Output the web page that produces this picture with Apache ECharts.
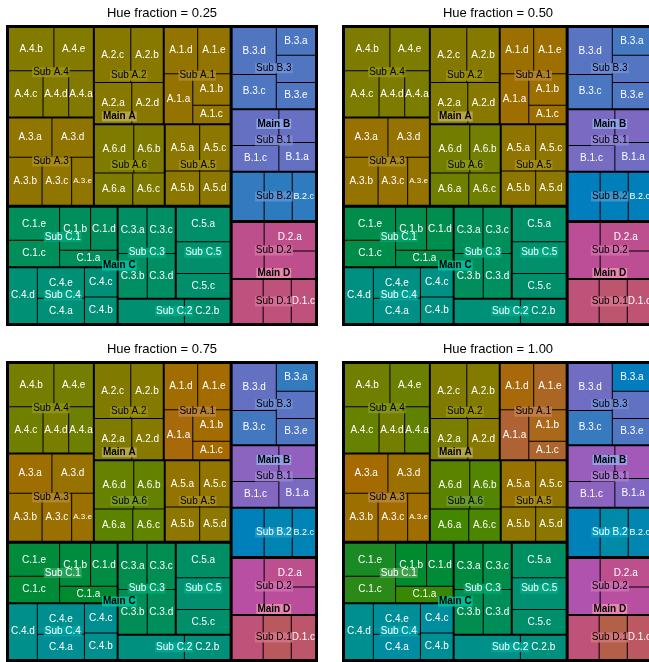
<!DOCTYPE html>
<html><head><meta charset="utf-8">
<script src="https://cdn.jsdelivr.net/npm/echarts@6/dist/echarts.min.js"></script>
<style>html,body{margin:0;padding:0;background:#fff}#c{width:649px;height:662px}</style>
</head><body><div id="c"></div>
<script>
// ---------- data ----------
const mainNames = ['A', 'B', 'C', 'D'];
const subsA = ['A.1', 'A.2', 'A.3', 'A.4', 'A.5', 'A.6'];
const subsB = ['B.1', 'B.2', 'B.3'];
const subsC = ['C.1', 'C.2', 'C.3', 'C.4', 'C.5'];
const subsD = ['D.1', 'D.2'];
const leafLetters = ['a', 'b', 'c', 'd', 'e'];
// leaf values, leaves ordered a, b, c, ...
const valA1 = [1479, 1216, 722, 1598, 1551];
const valA2 = [1596, 1848, 2072, 1344];
const valA3 = [1760, 1666, 1470, 1680, 1078];
const valA4 = [1175, 2024, 1645, 1222, 1760];
const valA5 = [1645, 1225, 1457, 1085];
const valA6 = [1287, 1519, 1056, 1960];
const valB1 = [1102, 1739, 1260, 1250];
const valB2 = [1617, 1421, 1176];
const valB3 = [1130, 1110, 1575, 2160, 1080];
const valC1 = [980, 1385, 1400, 1185, 1750];
const valC2 = [1715, 1185];
const valC3 = [1390, 1350, 1360, 1300];
const valC4 = [1242, 896, 1000, 1672, 1490];
const valC5 = [1940, 1775, 1385];
const valD1 = [1440, 1305, 1125];
const valD2 = [1537, 1881, 1484];
const hueFractions = [0.25, 0.50, 0.75, 1.00];
// leaf labels that the reference hides (covered by higher-level labels)
const hiddenLeafLabels = ['B.1.b', 'B.1.d', 'B.2.a', 'B.2.b', 'B.3.b', 'C.2.a', 'C.5.b', 'D.1.a', 'D.1.b', 'D.2.b', 'D.2.c'];
const shrunkLeafLabels = ['A.3.e', 'B.2.c'];

// ---------- styling helpers ----------
const FONT = '"Liberation Sans", Arial, Helvetica, sans-serif';
const subLists = [subsA, subsB, subsC, subsD];
const leafValues = {
  'A.1': valA1, 'A.2': valA2, 'A.3': valA3, 'A.4': valA4, 'A.5': valA5, 'A.6': valA6,
  'B.1': valB1, 'B.2': valB2, 'B.3': valB3,
  'C.1': valC1, 'C.2': valC2, 'C.3': valC3, 'C.4': valC4, 'C.5': valC5,
  'D.1': valD1, 'D.2': valD2
};

function hcl(h, c, l) {
  const WY = 100, Wu = 0.1978398, Wv = 0.4683363;
  const r = h * Math.PI / 180;
  const U = c * Math.cos(r), V = c * Math.sin(r);
  const Y = WY * (l > 7.999592 ? Math.pow((l + 16) / 116, 3) : l / 903.3);
  const u = U / (13 * l) + Wu, v = V / (13 * l) + Wv;
  const X = 9 * Y * u / (4 * v);
  const Z = -X / 3 - 5 * Y + 3 * Y / v;
  const g = x => { x = x > 0.00304 ? 1.055 * Math.pow(x, 1 / 2.4) - 0.055 : 12.92 * x; return Math.max(0, Math.min(1, x)); };
  return [
    g((3.240479 * X - 1.537150 * Y - 0.498535 * Z) / WY),
    g((-0.969256 * X + 1.875992 * Y + 0.041556 * Z) / WY),
    g((0.055648 * X - 0.204043 * Y + 1.057311 * Z) / WY)
  ].map(x => Math.round(x * 255));
}
const rgbStr = (c, a) => a == null ? `rgb(${c[0]},${c[1]},${c[2]})` : `rgba(${c[0]},${c[1]},${c[2]},${a})`;
const isLight = c => (0.299 * c[0] + 0.587 * c[1] + 0.114 * c[2]) >= 128;

function spread(n) {
  if (n < 3) return Array.from({ length: n }, (_, i) => i + 1);
  const h = Math.ceil(n / 2), out = [];
  for (let i = 1; i <= h; i++) { out.push(i); if (h + i <= n) out.push(h + i); }
  return out;
}
function splitRange(n, lb, ub, frc, rev) {
  const ids = spread(n), w = (ub - lb) / n;
  return ids.map(id => {
    const seg = rev ? n + 1 - id : id;
    const mid = lb + (seg - 0.5) * w;
    return { hue: mid, lb: mid - w * frc / 2, ub: mid + w * frc / 2 };
  });
}
function tokenStyle(c, bold) {
  return {
    backgroundColor: rgbStr(c, 0.863), color: isLight(c) ? '#000' : '#fff',
    fontSize: 10, fontFamily: FONT, fontWeight: bold ? 'bold' : 'normal',
    padding: [0, 1, 0, 1], lineHeight: 10, align: 'center'
  };
}

function buildPanel(frc) {
  const mainR = splitRange(4, 30, 390, frc, false);
  const leafTree = [], subTree = [], mainTree = [];
  mainNames.forEach((mk, mi) => {
    const subs = subLists[mi];
    const subR = splitRange(subs.length, mainR[mi].lb, mainR[mi].ub, frc, mi % 2 === 1);
    const leafSubs = [], labelSubs = [];
    let mainSum = 0;
    subs.forEach((sk, si) => {
      const vals = leafValues[sk];
      const leafR = splitRange(vals.length, subR[si].lb, subR[si].ub, frc, si % 2 === 1);
      let subSum = 0;
      const leaves = vals.map((v, li) => {
        subSum += v;
        const name = sk + '.' + leafLetters[li];
        const item = { name, value: v, itemStyle: { color: rgbStr(hcl(leafR[li].hue, 70, 50)) } };
        if (hiddenLeafLabels.includes(name)) item.label = { show: false };
        else if (shrunkLeafLabels.includes(name)) item.label = { fontSize: name === 'A.3.e' ? 8 : 9 };
        return item;
      });
      mainSum += subSum;
      leafSubs.push({ name: 'Sub ' + sk, children: leaves });
      labelSubs.push({ name: 'Sub ' + sk, value: subSum, label: { rich: { t: tokenStyle(hcl(subR[si].hue, 65, 60), false) } } });
    });
    leafTree.push({ name: 'Main ' + mk, children: leafSubs });
    subTree.push({ name: 'Main ' + mk, children: labelSubs });
    mainTree.push({ name: 'Main ' + mk, value: mainSum, label: { rich: { t: tokenStyle(hcl(mainR[mi].hue, 60, 70), true) } } });
  });
  return { leafTree, subTree, mainTree };
}

function levelsFor(bc, fill) {
  const base = { borderColor: bc };
  if (fill) base.color = fill;
  return [
    { itemStyle: Object.assign({}, base, { borderWidth: 3, gapWidth: 3 }) },
    { itemStyle: Object.assign({}, base, { borderWidth: 0, gapWidth: 2 }) },
    { itemStyle: Object.assign({}, base, { borderWidth: 0, gapWidth: 1 }) },
    { itemStyle: Object.assign({}, base, { borderWidth: 0, gapWidth: 0 }) }
  ];
}
function centerLabel(p) {
  return { x: p.rect.x + p.rect.width / 2, y: p.rect.y + p.rect.height / 2 - 5, align: 'center', verticalAlign: 'top' };
}

const panelBoxes = [
  { left: 6, top: 25 }, { left: 342, top: 25 },
  { left: 6, top: 361 }, { left: 342, top: 361 }
];
const PW = 312, PH = 301;

const series = [], titles = [];
hueFractions.forEach((frc, i) => {
  const box = panelBoxes[i];
  const t = buildPanel(frc);
  const common = {
    type: 'treemap', left: box.left, top: box.top, width: PW, height: PH,
    roam: false, nodeClick: false, breadcrumb: { show: false }, animation: false,
    squareRatio: 1, sort: 'desc', visibleMin: 0, silent: true,
    upperLabel: { show: false }, emphasis: { disabled: true }
  };
  series.push(Object.assign({}, common, {
    z: 2, levels: levelsFor('#000'),
    label: { show: true, position: 'inside', fontSize: 10, fontFamily: FONT, color: '#fff', padding: 0, overflow: 'none' },
    data: t.leafTree
  }));
  const overlayLabel = {
    show: true, position: 'inside', padding: 0, overflow: 'none', formatter: '{t|{b}}',
    rich: { t: { fontSize: 10, fontFamily: FONT, padding: [0, 1, 0, 1], lineHeight: 10, align: 'center' } }
  };
  series.push(Object.assign({}, common, {
    z: 3, levels: levelsFor('rgba(0,0,0,0)', 'rgba(0,0,0,0)'),
    label: overlayLabel, labelLayout: centerLabel, data: t.subTree
  }));
  series.push(Object.assign({}, common, {
    z: 4, levels: levelsFor('rgba(0,0,0,0)', 'rgba(0,0,0,0)'),
    label: overlayLabel, labelLayout: centerLabel, data: t.mainTree
  }));
  titles.push({
    text: 'Hue fraction = ' + frc.toFixed(2), left: box.left + PW / 2, top: box.top - 18,
    textAlign: 'center', padding: 0,
    textStyle: { fontSize: 13, fontWeight: 'normal', color: '#000', fontFamily: FONT }
  });
});

const chart = echarts.init(document.getElementById('c'), null, { renderer: 'canvas' });
chart.setOption({ backgroundColor: '#fff', animation: false, title: titles, series });
</script>
</body></html>
